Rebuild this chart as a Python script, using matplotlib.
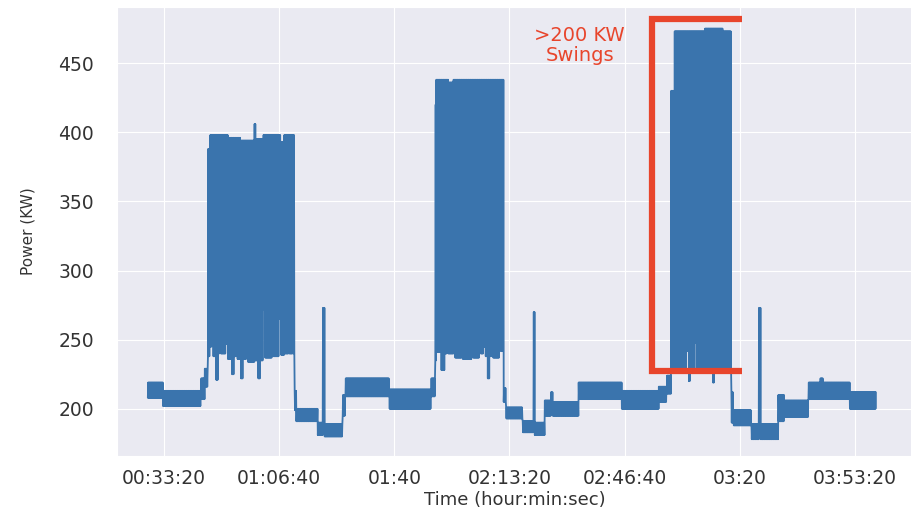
import numpy as np
import matplotlib
matplotlib.use("Agg")
import matplotlib.pyplot as plt
import seaborn as sns

# Power readings, as bands: each segment starts at
# seg_start (seconds) and the signal swings between seg_lo and seg_hi (KW)
seg_start = [1720, 1980, 2640, 2710,
             2760, 2800, 2830, 2860, 2900, 2940, 2960, 2990, 3070, 3110, 3180,
             3210, 3260, 3280, 3330, 3370, 3430, 3460, 3570, 3590, 3640, 3670,
             3720, 3750, 3880, 3900, 4000, 4030, 4090, 4160, 4180, 4230, 4250,
             4270, 4300, 4670, 4760, 4790, 5100, 5150, 5910, 6640,
             6710, 6730, 6820, 6870, 6910, 6940, 7030, 7060, 7170, 7190, 7340,
             7370, 7470, 7500, 7550, 7580, 7620, 7650, 7690, 7710, 7820, 7840,
             7900, 7940, 8230, 8420, 8440, 8610, 8720, 8750, 9200, 9950, 10590,
             10730,
             10810, 10870, 10980, 11000, 11080, 11110, 11130, 11220, 11250,
             11360, 11390, 11450, 11470, 11530, 11560, 11580, 11710, 11730,
             11760, 11780,
             11850, 11890, 12200, 12330, 12360, 12670, 12770, 13190, 13400,
             13450, 13910]
seg_lo = [208, 202, 207, 216,
          238, 245, 251, 238, 221, 240, 262, 240, 247, 236, 225,
          238, 250, 236, 222, 236, 242, 234, 269, 235, 222, 235,
          272, 237, 278, 238, 265, 239, 240, 266, 240, 257, 240,
          199, 191, 181, 188, 180, 195, 209, 200, 209,
          235, 241, 228, 240, 266, 240, 260, 237, 245, 236, 248,
          237, 250, 240, 245, 238, 222, 238, 252, 237, 256, 242,
          205, 193, 183, 188, 181, 195, 199, 195, 207, 200, 205,
          211,
          228, 228, 249, 228, 242, 220, 228, 248, 228,
          245, 228, 242, 228, 219, 244, 228, 245, 228,
          245, 228,
          190, 188, 178, 185, 178, 191, 194, 207, 207,
          207, 200]
seg_hi = [219, 213, 222, 229,
          388, 398, 398, 398, 398, 398, 398, 398, 398, 396, 396,
          396, 396, 396, 394, 394, 394, 394, 406, 395, 395, 395,
          398, 398, 398, 398, 398, 393, 398, 398, 398, 398, 398,
          213, 200, 190, 273, 189, 210, 222, 214, 222,
          420, 438, 438, 438, 438, 436, 438, 438, 438, 438, 438,
          438, 438, 438, 438, 438, 438, 438, 438, 438, 438, 438,
          215, 201, 191, 270, 190, 206, 212, 205, 219, 213, 216,
          224,
          430, 473, 473, 473, 473, 473, 473, 473, 473,
          473, 475, 475, 475, 475, 475, 475, 473, 473,
          473, 473,
          212, 199, 189, 273, 189, 210, 206, 219, 222,
          219, 212]
t_end = 14360

xtick_pos = [2000, 4000, 6000, 8000, 10000, 12000, 14000]
xtick_labels = ["00:33:20", "01:06:40", "01:40", "02:13:20",
                "02:46:40", "03:20", "03:53:20"]

# bracket around the third run
box_x = [12030, 10470, 10470, 12030]
box_y = [482, 482, 227, 227]

# sample the bands: the reading flips between low and high each sample
step = 6
times = np.arange(seg_start[0], t_end + step, step)
idx = np.searchsorted(seg_start, times, side="right") - 1
lo = np.array(seg_lo)[idx]
hi = np.array(seg_hi)[idx]
power = np.where(np.arange(len(times)) % 2 == 0, lo, hi)

sns.set_style("darkgrid")
plt.rcParams["font.family"] = ["DejaVu Sans"]

fig = plt.figure(figsize=(9.12, 5.11), dpi=100)
ax = fig.add_axes([0.128, 0.108, 0.872, 0.878])

ax.plot(times, power, color="#3a74ad", linewidth=1.3)
ax.plot(box_x, box_y, color="#e8452c", linewidth=4.5, solid_joinstyle="miter",
        solid_capstyle="butt")
ax.text(9220, 463, ">200 KW\nSwings", color="#e8452c", fontsize=14,
        ha="center", va="center", linespacing=1.05)

ax.set_xlim(1180, 14990)
ax.set_ylim(166, 490.5)
ax.set_xticks(xtick_pos)
ax.set_xticklabels(xtick_labels)
ax.set_yticks([200, 250, 300, 350, 400, 450])
ax.tick_params(axis="x", labelsize=13.5, pad=6, colors="#333333")
ax.tick_params(axis="y", labelsize=13.5, pad=13, colors="#333333")
ax.set_xlabel("Time (hour:min:sec)", fontsize=13, labelpad=2, color="#333333")
ax.set_ylabel("Power (KW)", fontsize=11, labelpad=16, color="#333333")

fig.savefig("out.png", dpi=100)
